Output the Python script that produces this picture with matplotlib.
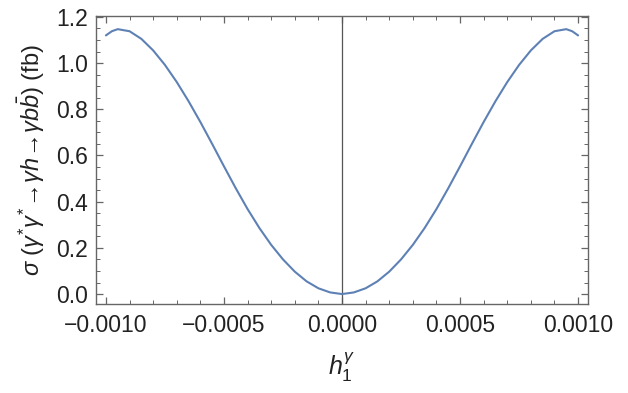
import matplotlib
matplotlib.use("Agg")
import matplotlib.pyplot as plt
from matplotlib.ticker import MultipleLocator, FuncFormatter

# h1^gamma values and cross section (fb)
h1 = [-0.00100, -0.000975, -0.00095, -0.00090, -0.00085, -0.00080, -0.00075, -0.00070,
      -0.00065, -0.00060, -0.00055, -0.00050, -0.00045, -0.00040, -0.00035,
      -0.00030, -0.00025, -0.00020, -0.00015, -0.00010, -0.00005, 0.0,
      0.00005, 0.00010, 0.00015, 0.00020, 0.00025, 0.00030, 0.00035, 0.00040,
      0.00045, 0.00050, 0.00055, 0.00060, 0.00065, 0.00070, 0.00075, 0.00080,
      0.00085, 0.00090, 0.00095, 0.000975, 0.00100]
sigma = [1.120, 1.138, 1.147, 1.138, 1.105, 1.055, 0.992, 0.918,
         0.835, 0.745, 0.650, 0.553, 0.458, 0.368, 0.286,
         0.213, 0.150, 0.097, 0.055, 0.025, 0.007, 0.0,
         0.007, 0.025, 0.055, 0.097, 0.150, 0.213, 0.286, 0.368,
         0.458, 0.553, 0.650, 0.745, 0.835, 0.918, 0.992, 1.055,
         1.105, 1.138, 1.147, 1.138, 1.120]

plt.rcParams['font.family'] = ['Liberation Sans', 'DejaVu Sans']
plt.rcParams['mathtext.fontset'] = 'custom'
plt.rcParams['mathtext.rm'] = 'Liberation Sans'
plt.rcParams['mathtext.it'] = 'Liberation Sans:italic'
plt.rcParams['mathtext.bf'] = 'Liberation Sans:bold'

fig = plt.figure(figsize=(6.28, 3.93), dpi=100)
ax = fig.add_axes([0.1529, 0.2265, 0.7834, 0.7328])

ax.plot(h1, sigma, color='#5E81B5', lw=1.5, solid_capstyle='round',
        solid_joinstyle='round', zorder=3)
ax.axvline(0.0, color='#555555', lw=0.9, zorder=2)

ax.set_xlim(-0.001042, 0.001042)
ax.set_ylim(-0.043, 1.204)

ax.xaxis.set_major_locator(MultipleLocator(0.0005))
ax.xaxis.set_minor_locator(MultipleLocator(0.0001))
ax.yaxis.set_major_locator(MultipleLocator(0.2))
ax.yaxis.set_minor_locator(MultipleLocator(0.05))

ax.xaxis.set_major_formatter(FuncFormatter(
    lambda v, p: f"{v:.4f}".replace('-', '\u2212') if abs(v) > 1e-12 else "0.0000"))
ax.yaxis.set_major_formatter(FuncFormatter(
    lambda v, p: f"{v:.1f}" if abs(v) > 1e-12 else "0.0"))

frame_col = '#666666'
for s in ax.spines.values():
    s.set_color(frame_col)
    s.set_linewidth(1.0)

ax.tick_params(which='both', direction='in', top=True, right=True, color=frame_col,
               labelcolor='#222222', labelsize=16.5)
ax.tick_params(which='major', length=5, width=0.9)
ax.tick_params(which='minor', length=2.8, width=0.7)
ax.tick_params(axis='x', which='major', pad=7)
ax.tick_params(axis='y', which='major', pad=6)

ax.set_xlabel(r'$h_1^{\gamma}$', fontsize=18, color='#222222', labelpad=10)
ax.set_ylabel(r'$\sigma$ ($\gamma^{*}\gamma^{*}\!\rightarrow\!\gamma h\!\rightarrow\!\gamma b\bar{b}$) (fb)',
              fontsize=17, color='#222222', labelpad=6)

fig.savefig('out.png', dpi=100)
